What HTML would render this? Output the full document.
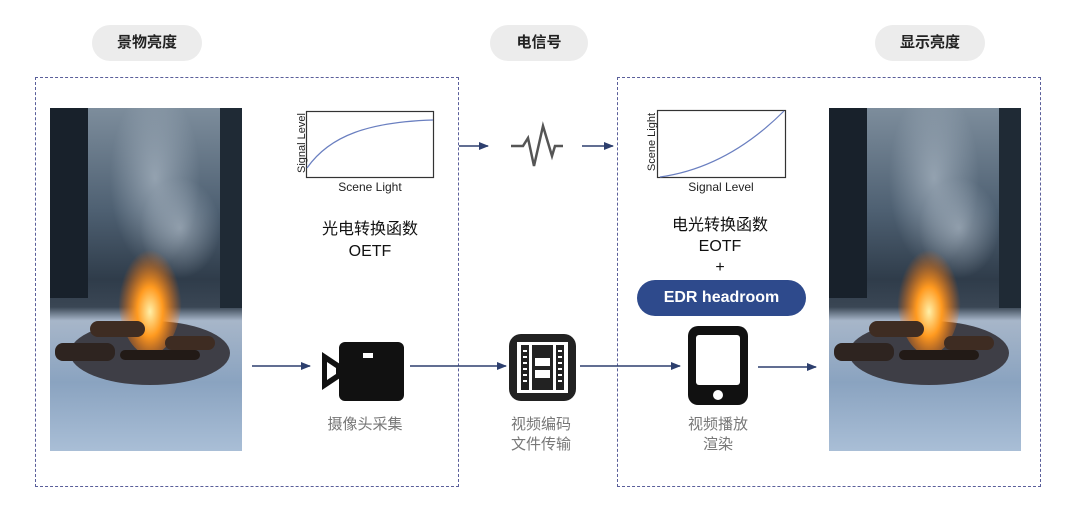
<!DOCTYPE html>
<html><head><meta charset="utf-8"><style>
body{margin:0;width:1080px;height:524px;background:#fff;position:relative;overflow:hidden;font-family:"Liberation Sans","Noto Sans CJK SC",sans-serif;}
.a{position:absolute;}
.pill{position:absolute;background:#ececec;border-radius:18px;height:36px;line-height:36px;text-align:center;font-size:15px;font-weight:bold;color:#222;}
.box{position:absolute;border:1.5px dashed #5a5f9a;}
.t{position:absolute;text-align:center;color:#111;font-size:16px;line-height:22px;}
.g{position:absolute;text-align:center;color:#777;font-size:15px;line-height:20px;}
</style></head><body>
<div class="pill" style="left:92px;top:25px;width:110px;">景物亮度</div>
<div class="pill" style="left:490px;top:25px;width:98px;">电信号</div>
<div class="pill" style="left:875px;top:25px;width:110px;">显示亮度</div>
<div class="box" style="left:35px;top:77px;width:422px;height:408px;"></div>
<div class="box" style="left:617px;top:77px;width:422px;height:408px;"></div>

<svg class="a" style="left:0;top:0" width="1080" height="524">
<defs>
<linearGradient id="sky" x1="0" y1="0" x2="0" y2="1">
<stop offset="0" stop-color="#7d8d9c"/><stop offset="0.3" stop-color="#4e6072"/><stop offset="0.5" stop-color="#2f3c4a"/><stop offset="0.58" stop-color="#3a4654"/><stop offset="0.62" stop-color="#a7b6c9"/><stop offset="0.8" stop-color="#8aa3c0"/><stop offset="1" stop-color="#a9bed6"/></linearGradient>
<radialGradient id="fire" cx="0.5" cy="0.65" r="0.5"><stop offset="0" stop-color="#fff0a8"/><stop offset="0.4" stop-color="#ff9a20"/><stop offset="1" stop-color="#ff6a00" stop-opacity="0"/></radialGradient>
<radialGradient id="smoke" cx="0.5" cy="0.5" r="0.5"><stop offset="0" stop-color="#b8c4d0" stop-opacity="0.6"/><stop offset="1" stop-color="#b8c4d0" stop-opacity="0"/></radialGradient>
<clipPath id="cp"><rect width="192" height="343"/></clipPath>
<marker id="ar" markerWidth="10" markerHeight="10" refX="9" refY="5" orient="auto" markerUnits="userSpaceOnUse"><path d="M0,1 L10,5 L0,9z" fill="#2d3f6e"/></marker>
<g id="scene" clip-path="url(#cp)">
<rect width="192" height="343" fill="url(#sky)"/>
<rect x="0" y="0" width="38" height="190" fill="#18212b"/>
<rect x="170" y="0" width="22" height="200" fill="#1f2a35"/>
<ellipse cx="105" cy="70" rx="45" ry="90" fill="url(#smoke)"/>
<ellipse cx="130" cy="120" rx="40" ry="50" fill="url(#smoke)"/>
<ellipse cx="100" cy="245" rx="80" ry="32" fill="#3e3e46"/>
<ellipse cx="100" cy="185" rx="32" ry="62" fill="url(#fire)"/>
<rect x="5" y="235" width="60" height="18" rx="8" fill="#2e2420"/>
<rect x="40" y="213" width="55" height="16" rx="8" fill="#3e2c22"/>
<rect x="115" y="228" width="50" height="14" rx="7" fill="#3e2c22"/>
<rect x="70" y="242" width="80" height="10" rx="5" fill="#221a16"/>
</g>
</defs>
<use href="#scene" x="50" y="108"/>
<use href="#scene" x="829" y="108"/>

<rect x="306.5" y="111.5" width="127" height="66" fill="none" stroke="#333" stroke-width="1.2"/>
<path d="M307,168 C330,135 370,122 433,120" fill="none" stroke="#6a7fc0" stroke-width="1.2"/>
<rect x="657.5" y="110.5" width="128" height="67" fill="none" stroke="#333" stroke-width="1.2"/>
<path d="M660,177 C710,170 750,145 784,111" fill="none" stroke="#6a7fc0" stroke-width="1.2"/>

<line x1="459" y1="146" x2="488" y2="146" stroke="#2d3f6e" stroke-width="1.5" marker-end="url(#ar)"/>
<line x1="582" y1="146" x2="613" y2="146" stroke="#2d3f6e" stroke-width="1.5" marker-end="url(#ar)"/>
<path d="M511,146 L523,146 L528,138 L534,166 L543,126 L552,156 L555,146 L563,146" fill="none" stroke="#555" stroke-width="2.5"/>

<line x1="252" y1="366" x2="310" y2="366" stroke="#2d3f6e" stroke-width="1.5" marker-end="url(#ar)"/>
<line x1="410" y1="366" x2="506" y2="366" stroke="#2d3f6e" stroke-width="1.5" marker-end="url(#ar)"/>
<line x1="580" y1="366" x2="680" y2="366" stroke="#2d3f6e" stroke-width="1.5" marker-end="url(#ar)"/>
<line x1="758" y1="367" x2="816" y2="367" stroke="#2d3f6e" stroke-width="1.5" marker-end="url(#ar)"/>

<rect x="339" y="342" width="65" height="59" rx="6" fill="#111"/>
<path d="M322,352 L340,364 L340,378 L322,390z" fill="#111"/>
<path d="M327,362 L336,368 L336,374 L327,380z" fill="#fff"/>
<rect x="363" y="353" width="10" height="5" fill="#fff"/>
<rect x="509" y="334" width="67" height="67" rx="12" fill="#222"/>
<rect x="517" y="342" width="51" height="51" fill="#fff"/>
<rect x="521" y="345" width="8" height="45" fill="#222"/>
<rect x="556" y="345" width="8" height="45" fill="#222"/>
<rect x="532" y="345" width="21" height="45" fill="#222"/>
<rect x="535" y="358" width="15" height="8" fill="#fff"/>
<rect x="535" y="370" width="15" height="8" fill="#fff"/>
<g fill="#fff"><rect x="523" y="350" width="4" height="2"/><rect x="523" y="356" width="4" height="2"/><rect x="523" y="362" width="4" height="2"/><rect x="523" y="368" width="4" height="2"/><rect x="523" y="374" width="4" height="2"/><rect x="523" y="380" width="4" height="2"/>
<rect x="558" y="350" width="4" height="2"/><rect x="558" y="356" width="4" height="2"/><rect x="558" y="362" width="4" height="2"/><rect x="558" y="368" width="4" height="2"/><rect x="558" y="374" width="4" height="2"/><rect x="558" y="380" width="4" height="2"/></g>
<rect x="688" y="326" width="60" height="79" rx="10" fill="#111"/>
<rect x="696" y="335" width="44" height="50" rx="3" fill="#fff"/>
<circle cx="718" cy="395" r="5" fill="#fff"/>
</svg>

<div class="a" style="left:272px;top:115px;width:60px;height:60px;">
<div style="position:absolute;left:-20px;top:22px;width:100px;transform:rotate(-90deg);font-size:11px;text-align:center;color:#222;">Signal Level</div></div>
<div class="a" style="left:306px;top:180px;width:128px;text-align:center;font-size:12px;color:#222;">Scene Light</div>
<div class="a" style="left:622px;top:114px;width:60px;height:60px;">
<div style="position:absolute;left:-20px;top:22px;width:100px;transform:rotate(-90deg);font-size:11px;text-align:center;color:#222;">Scene Light</div></div>
<div class="a" style="left:657px;top:180px;width:128px;text-align:center;font-size:12px;color:#222;">Signal Level</div>

<div class="t" style="left:290px;top:219px;width:160px;">光电转换函数<br>OETF</div>
<div class="t" style="left:640px;top:215px;width:160px;line-height:21px;">电光转换函数<br>EOTF<br>+</div>
<div class="a" style="left:637px;top:280px;width:169px;height:36px;border-radius:18px;background:#2e4a8c;color:#fff;font-weight:bold;font-size:16px;line-height:36px;text-align:center;">EDR headroom</div>

<div class="g" style="left:310px;top:415px;width:110px;">摄像头采集</div>
<div class="g" style="left:486px;top:415px;width:110px;">视频编码<br>文件传输</div>
<div class="g" style="left:663px;top:415px;width:110px;">视频播放<br>渲染</div>
</body></html>
